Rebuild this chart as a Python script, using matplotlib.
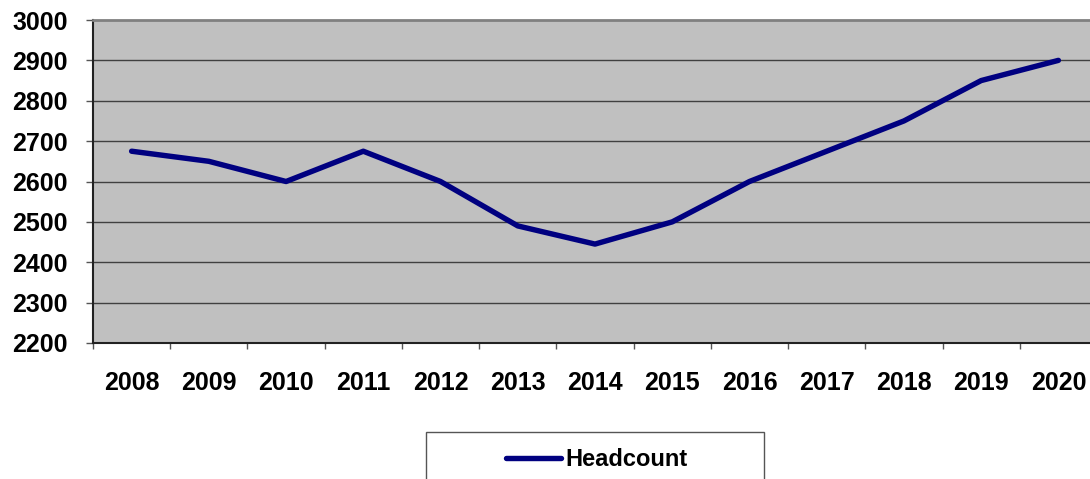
import matplotlib.pyplot as plt
from matplotlib.patches import Rectangle

years = ['2008', '2009', '2010', '2011', '2012', '2013', '2014',
         '2015', '2016', '2017', '2018', '2019', '2020']
headcount = [2675, 2650, 2600, 2675, 2600, 2490, 2445,
             2500, 2600, 2675, 2750, 2850, 2900]
yticks = [2200, 2300, 2400, 2500, 2600, 2700, 2800, 2900, 3000]

plt.rcParams['font.family'] = ['Liberation Sans', 'DejaVu Sans']
plt.rcParams['font.weight'] = 'bold'

fig = plt.figure(figsize=(10.9, 4.79), dpi=100)
# plot area runs past the right edge of the picture, like the original
ax = fig.add_axes([93 / 1090, 1 - 343 / 479, 1004 / 1090, 323 / 479])
ax.set_facecolor('#C0C0C0')

x = range(len(years))
line, = ax.plot(x, headcount, color='#000080', lw=3.9, solid_capstyle='round',
                label='Headcount', zorder=3)

ax.set_xlim(-0.5, len(years) - 0.5)
ax.set_ylim(2200, 3000)
ax.set_yticks(yticks)
ax.set_yticklabels([str(v) for v in yticks], fontsize=18, fontweight='bold')
for v in yticks[1:-1]:
    ax.axhline(v, color='#404040', lw=1, zorder=1)

# category ticks sit between years, labels centred on them
ax.set_xticks([i - 0.5 for i in x])
ax.set_xticklabels([])
for i, yr in enumerate(years):
    ax.text(i, -0.124, yr, transform=ax.get_xaxis_transform(), ha='center',
            va='center', fontsize=18, fontweight='bold')

ax.tick_params(axis='y', length=5, width=1, color='#555555', pad=13)
ax.tick_params(axis='x', length=4, width=1, color='#555555')
ax.spines['left'].set_color('#222222')
ax.spines['left'].set_linewidth(1.5)
ax.spines['bottom'].set_color('#222222')
ax.spines['bottom'].set_linewidth(1.5)
ax.spines['top'].set_color('#808080')
ax.spines['top'].set_linewidth(2)
ax.spines['right'].set_visible(False)

# legend box, cut off by the bottom of the picture
fig.patches.append(Rectangle((426 / 1090, -0.05), 338 / 1090, 0.05 + 1 - 432 / 479,
                             transform=fig.transFigure, facecolor='white',
                             edgecolor='#555555', lw=1))
leg = fig.legend(handles=[line], loc='upper center',
                 bbox_to_anchor=(597 / 1090, 1 - 434 / 479),
                 frameon=False, prop={'size': 17, 'weight': 'bold'},
                 handlelength=2.3, handletextpad=0.2, borderpad=0.6,
                 borderaxespad=0)

fig.savefig('out.png', dpi=100)
